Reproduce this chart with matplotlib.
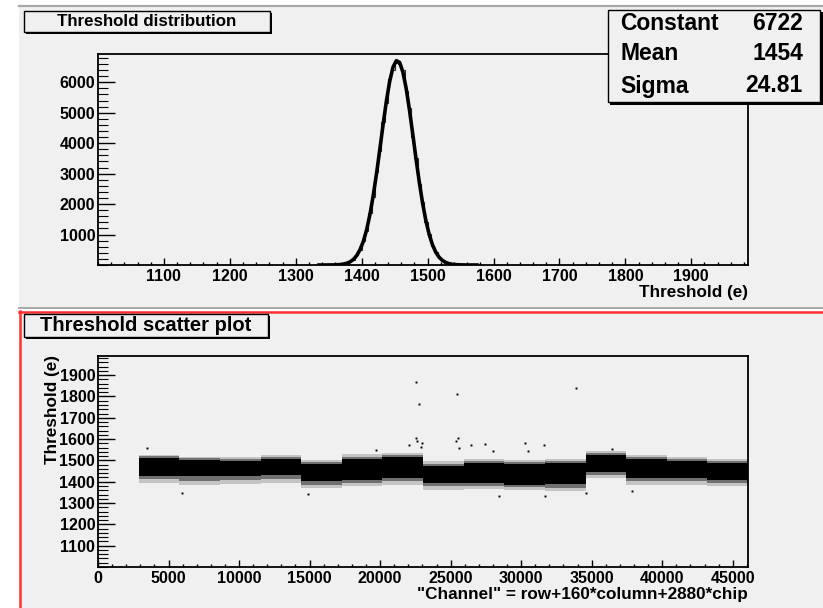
import numpy as np
import matplotlib
matplotlib.use("Agg")
import matplotlib.pyplot as plt
from matplotlib.patches import Rectangle
from matplotlib.ticker import MultipleLocator, FixedLocator

# ---- threshold distribution (5 e bins from 1330 e) ----
bin_lo = 1330
bin_w = 5
counts = [0, 0, 1, 0, 3, 4, 9, 12, 35, 52,
          115, 178, 330, 490, 800, 1120, 1700, 2230, 3060, 3750,
          4700, 5320, 6100, 6420, 6650, 6600, 6400, 5720, 5150, 4220,
          3530, 2650, 2060, 1400, 1020, 630, 430, 240, 160, 75,
          50, 20, 14, 5, 2, 1, 1, 0, 0, 0]
fit_y = [0, 0, 0, 1, 2, 3, 7, 15, 31, 58,
         106, 185, 311, 505, 776, 1157, 1657, 2280, 3003, 3798,
         4617, 5390, 6036, 6497, 6710, 6655, 6339, 5796, 5090, 4291,
         3474, 2703, 2016, 1444, 994, 657, 417, 254, 149, 83,
         45, 23, 12, 6, 3, 1, 0, 0, 0, 0]
stat_names = ["Constant", "Mean", "Sigma"]
stat_vals = ["6722", "1454", "24.81"]

# ---- threshold scatter: band per chip (2880 channels each) ----
chip_w = 2880
chips = list(range(1, 16))
core_hi = [1511, 1503, 1495, 1506, 1482, 1506, 1515, 1474, 1490, 1484, 1487, 1526, 1506, 1499, 1487]
core_lo = [1428, 1425, 1425, 1433, 1404, 1409, 1417, 1394, 1394, 1386, 1389, 1444, 1417, 1417, 1409]
fringe_hi = [1526, 1518, 1518, 1526, 1503, 1530, 1535, 1495, 1506, 1503, 1506, 1542, 1526, 1518, 1506]
fringe_lo = [1394, 1386, 1390, 1394, 1370, 1378, 1386, 1363, 1366, 1363, 1355, 1417, 1386, 1386, 1382]
out_x = [3440, 5930, 14900, 19740, 22025, 22520, 22540, 22600, 22775, 22900, 23000,
         25350, 25470, 25520, 25590, 26460, 27410, 28000, 28450, 30240, 30470,
         31590, 31660, 33870, 34560, 36450, 37860]
out_y = [1557, 1347, 1344, 1550, 1573, 1604, 1867, 1590, 1764, 1565, 1580,
         1593, 1813, 1607, 1559, 1573, 1578, 1545, 1331, 1584, 1542,
         1573, 1331, 1838, 1347, 1553, 1358]

W, H = 823, 608
BG = "#f0f0f0"
plt.rcParams["font.family"] = ["Liberation Sans", "DejaVu Sans"]
plt.rcParams["font.weight"] = "bold"

fig = plt.figure(figsize=(W / 100, H / 100), dpi=100, facecolor="white")


def frac(l, t, r, b):
    return [l / W, 1 - b / H, (r - l) / W, (b - t) / H]


def fig_rect(l, t, r, b, **kw):
    fig.add_artist(Rectangle((l / W, 1 - b / H), (r - l) / W, (b - t) / H,
                             transform=fig.transFigure, **kw))


def fig_line(xs, ys, **kw):
    fig.add_artist(plt.Line2D([x / W for x in xs], [1 - y / H for y in ys],
                              transform=fig.transFigure, **kw))


def title_box(l, t, r, b, text, size):
    fig_rect(l + 2, t + 2, r + 2, b + 2, fc="black", ec="black", lw=0, zorder=5)
    fig_rect(l, t, r, b, fc=BG, ec="black", lw=1.0, zorder=6)
    fig.text((l + r) / 2 / W, 1 - (t + b) / 2 / H, text, ha="center", va="center",
             fontsize=size, fontweight="bold", zorder=7)


# pads
fig_rect(19, 5, W, 309, fc=BG, ec="none", zorder=0)
fig_rect(19, 311, W, H, fc=BG, ec="none", zorder=0)
fig_line([19, W], [6, 6], color="#a8a8a8", lw=1.6, zorder=1)
fig_line([19, W], [308, 308], color="#a8a8a8", lw=1.4, zorder=1)
fig_line([19, W], [311.5, 311.5], color="#ff3030", lw=1.8, zorder=1)
fig_line([19.5, 19.5], [311, H], color="#ff3030", lw=1.8, zorder=1)


def style(ax, ymaj_len, ymin_len):
    ax.set_facecolor(BG)
    for s in ax.spines.values():
        s.set_linewidth(1.3)
    ax.tick_params(axis="both", which="both", direction="in", top=False, right=False,
                   labelsize=11.5, width=1.0)
    ax.tick_params(axis="x", which="major", length=5, pad=3)
    ax.tick_params(axis="x", which="minor", length=2.5)
    ax.tick_params(axis="y", which="major", length=ymaj_len, pad=2)
    ax.tick_params(axis="y", which="minor", length=ymin_len, width=0.8)
    for lab in ax.get_xticklabels() + ax.get_yticklabels():
        lab.set_fontweight("bold")


# ---- top: histogram ----
ax1 = fig.add_axes(frac(98, 54, 748, 265))
edges = bin_lo + bin_w * np.arange(len(counts) + 1)
centers = edges[:-1] + bin_w / 2
ax1.stairs(counts, edges, color="#303030", lw=0.8)
ax1.plot(centers, fit_y, color="black", lw=2.6, solid_capstyle="butt")
ax1.set_xlim(1000, 1986)
ax1.set_ylim(0, 6930)
ax1.xaxis.set_major_locator(FixedLocator(range(1100, 2000, 100)))
ax1.xaxis.set_minor_locator(MultipleLocator(20))
ax1.yaxis.set_major_locator(FixedLocator(range(1000, 7000, 1000)))
ax1.yaxis.set_minor_locator(MultipleLocator(200))
style(ax1, 12, 7)
fig.text(748 / W, 1 - 293 / H, "Threshold (e)", ha="right", va="center",
         fontsize=12.3, fontweight="bold")

# stats box
fig_rect(610, 12, 823, 105, fc="black", ec="none", zorder=8)
fig_rect(608, 10, 820, 102, fc=BG, ec="black", lw=1.0, zorder=9)
for i, (n, v) in enumerate(zip(stat_names, stat_vals)):
    y = [24, 54, 86][i]
    fig.text(620 / W, 1 - y / H, n, ha="left", va="center", fontsize=16.5,
             fontweight="bold", zorder=10)
    fig.text(803 / W, 1 - y / H, v, ha="right", va="center", fontsize=16.5,
             fontweight="bold", zorder=10)

title_box(24, 11, 270, 32, "Threshold distribution", 12.2)

# ---- bottom: scatter ----
ax2 = fig.add_axes(frac(98, 356, 748, 567))
for i, c in enumerate(chips):
    xs = [c * chip_w, (c + 1) * chip_w]
    ax2.fill_between(xs, fringe_lo[i], fringe_hi[i], color="#c4c4c4", lw=0)
    ax2.fill_between(xs, (fringe_lo[i] + core_lo[i]) / 2, (fringe_hi[i] + core_hi[i]) / 2,
                     color="#707070", lw=0)
    ax2.fill_between(xs, core_lo[i], core_hi[i], color="black", lw=0)
ax2.plot(out_x, out_y, ls="none", marker="s", ms=1.4, color="black", mew=0)
ax2.set_xlim(0, 46080)
ax2.set_ylim(1000, 1990)
ax2.xaxis.set_major_locator(FixedLocator(range(0, 46000, 5000)))
ax2.xaxis.set_minor_locator(MultipleLocator(1000))
ax2.yaxis.set_major_locator(FixedLocator(range(1100, 2000, 100)))
ax2.yaxis.set_minor_locator(MultipleLocator(20))
style(ax2, 12, 7)
fig.text(748 / W, 1 - 595 / H, '"Channel" = row+160*column+2880*chip', ha="right",
         va="center", fontsize=12.3, fontweight="bold")
fig.text(52 / W, 1 - 355 / H, "Threshold (e)", ha="center", va="top", rotation=90,
         fontsize=12.3, fontweight="bold")

title_box(24, 314, 268, 337, "Threshold scatter plot", 14.5)

fig.savefig("out.png", dpi=100, facecolor="white")
